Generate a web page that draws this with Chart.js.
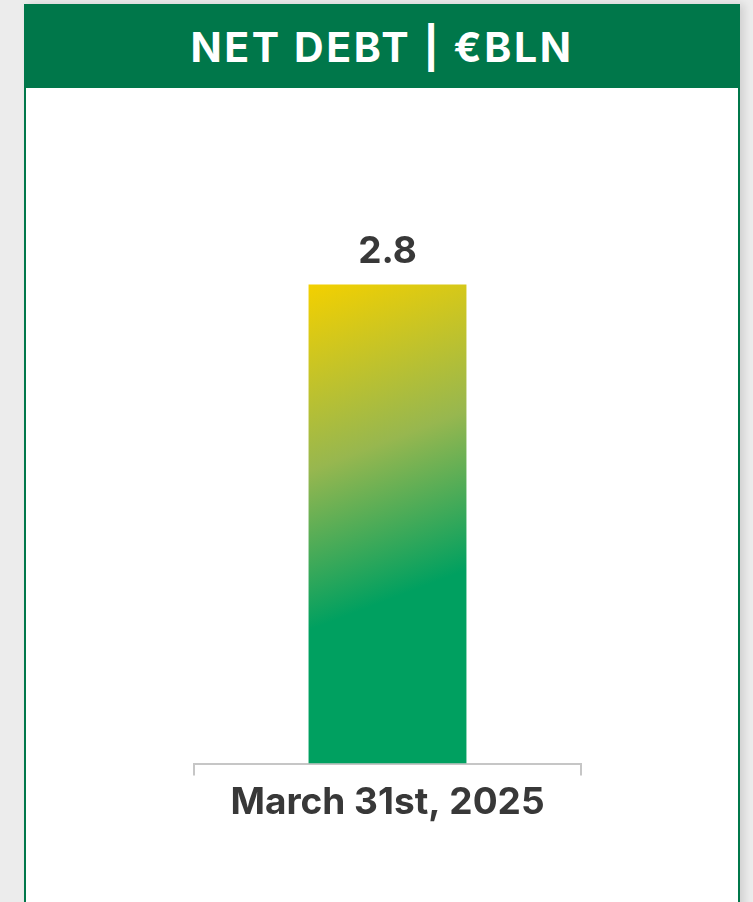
<!DOCTYPE html>
<html>
<head>
<meta charset="utf-8">
<script src="https://cdn.jsdelivr.net/npm/chart.js@4"></script>
<style>
    body {
        margin: 0;
        background: #ececec;
        width: 753px;
        height: 902px;
        overflow: hidden;
        font-family: Inter, "Noto Sans", sans-serif;
    }
    .card {
        position: absolute;
        left: 24px;
        top: 4px;
        width: 712px;
        height: 940px;
        background: #fff;
        border-left: 2px solid #00774a;
        border-right: 2px solid #00774a;
        box-shadow: 4px 0 8px rgba(0, 0, 0, 0.12);
    }
    .card h1 {
        margin: 0 -2px;
        height: 84px;
        line-height: 86px;
        background: #00774a;
        color: #fff;
        text-align: center;
        font-size: 41px;
        font-weight: 700;
        letter-spacing: 2.6px;
    }
    #wrap {
        position: absolute;
        left: 0;
        top: 0;
        width: 753px;
        height: 902px;
    }
</style>
</head>
<body>
<div class="card"><h1>NET DEBT | €BLN</h1></div>
<div id="wrap"><canvas id="debtChart"></canvas></div>
<script>
var categories = ['March 31st, 2025'];
var netDebt = [2.8];

var TEXT = '#383838';
var AXIS = '#c6c6c6';

// bar fill: yellow top-left fading to green further down
var gradientFill = {
    id: 'gradientFill',
    beforeDatasetsDraw: function (chart) {
        var ctx = chart.ctx;
        chart.getDatasetMeta(0).data.forEach(function (bar) {
            var p = bar.getProps(['x', 'y', 'width', 'base'], true);
            var left = p.x - p.width / 2;
            var h = p.base - p.y;
            var g = ctx.createLinearGradient(left, p.y, left + p.width * 0.73, p.y + h * 0.63);
            g.addColorStop(0, '#f3d000');
            g.addColorStop(0.54, '#97b74f');
            g.addColorStop(1, '#00a060');
            bar.options.backgroundColor = g;
        });
    }
};

// value above the bar
var valueLabels = {
    id: 'valueLabels',
    afterDatasetsDraw: function (chart) {
        var ctx = chart.ctx;
        var values = chart.data.datasets[0].data;
        ctx.save();
        ctx.fillStyle = TEXT;
        ctx.font = '700 37px Inter';
        ctx.textAlign = 'center';
        ctx.textBaseline = 'alphabetic';
        chart.getDatasetMeta(0).data.forEach(function (bar, i) {
            ctx.fillText(values[i].toFixed(1), bar.x, bar.y - 21);
        });
        ctx.restore();
    }
};

var debtChart = new Chart(document.getElementById('debtChart'), {
    type: 'bar',
    data: {
        labels: categories,
        datasets: [{
            data: netDebt,
            backgroundColor: '#00a060',
            borderWidth: 0,
            categoryPercentage: 1,
            barPercentage: 0.408
        }]
    },
    options: {
        responsive: true,
        maintainAspectRatio: false,
        animation: false,
        layout: {
            padding: { left: 194, right: 172, top: 216, bottom: 72 }
        },
        plugins: {
            legend: { display: false },
            tooltip: { enabled: false }
        },
        scales: {
            x: {
                grid: {
                    drawOnChartArea: false,
                    drawTicks: true,
                    tickLength: 12,
                    color: AXIS,
                    lineWidth: 2
                },
                border: { display: true, color: AXIS, width: 2 },
                ticks: {
                    color: TEXT,
                    padding: 5,
                    font: { family: 'Inter', size: 37, weight: '700' }
                }
            },
            y: {
                display: false,
                min: 0,
                max: 3.2
            }
        }
    },
    plugins: [gradientFill, valueLabels]
});
</script>
</body>
</html>
